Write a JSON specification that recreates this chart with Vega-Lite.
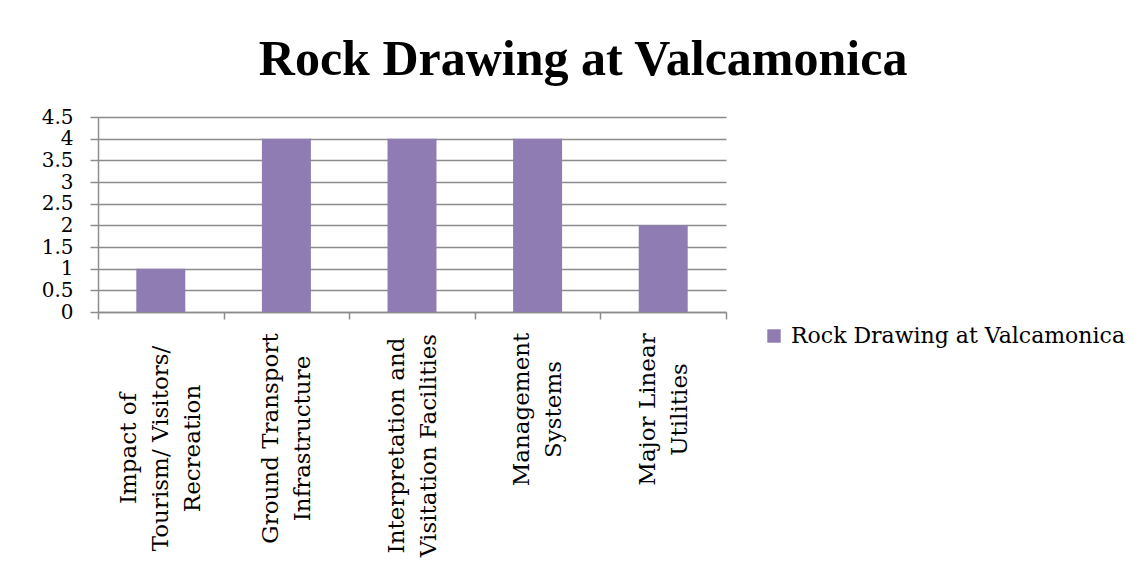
{
  "$schema": "https://vega.github.io/schema/vega-lite/v6.json",
  "width": 628,
  "height": 195,
  "autosize": {"type": "none"},
  "padding": {"left": 98, "top": 117, "right": 420, "bottom": 270},
  "background": "white",
  "config": {"view": {"stroke": null}},
  "title": {
    "text": "Rock Drawing at Valcamonica",
    "font": "Liberation Serif",
    "fontSize": 50,
    "fontWeight": "bold",
    "color": "black",
    "anchor": "middle",
    "frame": "bounds",
    "baseline": "alphabetic",
    "offset": -18
  },
  "data": {
    "values": [
      {"category": "Impact of Tourism/ Visitors/ Recreation", "value": 1, "series": "Rock Drawing at Valcamonica"},
      {"category": "Ground Transport Infrastructure", "value": 4, "series": "Rock Drawing at Valcamonica"},
      {"category": "Interpretation and Visitation Facilities", "value": 4, "series": "Rock Drawing at Valcamonica"},
      {"category": "Management Systems", "value": 4, "series": "Rock Drawing at Valcamonica"},
      {"category": "Major Linear Utilities", "value": 2, "series": "Rock Drawing at Valcamonica"}
    ]
  },
  "mark": {"type": "bar", "width": {"band": 0.39}},
  "encoding": {
    "x": {
      "field": "category",
      "type": "nominal",
      "sort": null,
      "scale": {"paddingInner": 0, "paddingOuter": 0},
      "axis": {
        "title": null,
        "labelExpr": "datum.value == 'Impact of Tourism/ Visitors/ Recreation' ? ['Impact of', 'Tourism/ Visitors/', 'Recreation'] : datum.value == 'Ground Transport Infrastructure' ? ['Ground Transport', 'Infrastructure'] : datum.value == 'Interpretation and Visitation Facilities' ? ['Interpretation and', 'Visitation Facilities'] : datum.value == 'Management Systems' ? ['Management', 'Systems'] : datum.value == 'Major Linear Utilities' ? ['Major Linear', 'Utilities'] : ''",
        "labelAngle": -90,
        "labelAlign": "center",
        "labelBaseline": "middle",
        "labelFont": "DejaVu Serif",
        "labelFontSize": 23,
        "labelLineHeight": 32,
        "labelLimit": 0,
        "labelOffset": {
          "condition": {"test": "datum.value == 'Impact of Tourism/ Visitors/ Recreation'", "value": -32},
          "value": -16
        },
        "labelPadding": {
          "condition": [
            {"test": "datum.value == 'Impact of Tourism/ Visitors/ Recreation'", "value": 129},
            {"test": "datum.value == 'Ground Transport Infrastructure'", "value": 119},
            {"test": "datum.value == 'Interpretation and Visitation Facilities'", "value": 126}
          ],
          "value": 90
        },
        "labelColor": "black",
        "labelOverlap": false,
        "tickBand": "extent",
        "tickSize": 7,
        "tickColor": "#8C8C8C",
        "domainColor": "#8C8C8C",
        "tickWidth": 1.5,
        "domainWidth": 1.5
      }
    },
    "y": {
      "field": "value",
      "type": "quantitative",
      "scale": {"domain": [0, 4.5], "nice": false},
      "axis": {
        "title": null,
        "values": [0, 0.5, 1, 1.5, 2, 2.5, 3, 3.5, 4, 4.5],
        "format": "~g",
        "labelFont": "DejaVu Serif",
        "labelFontSize": 20,
        "labelColor": "black",
        "labelPadding": 17,
        "labelOverlap": false,
        "labelFlush": false,
        "tickSize": 8,
        "tickColor": "#8C8C8C",
        "domainColor": "#8C8C8C",
        "gridColor": "#8C8C8C",
        "tickWidth": 1.5,
        "domainWidth": 1.5,
        "gridWidth": 1.5
      }
    },
    "color": {
      "field": "series",
      "type": "nominal",
      "scale": {"range": ["#8E7CB3"]},
      "legend": {
        "title": null,
        "orient": "none",
        "legendX": 665,
        "legendY": 208,
        "padding": 0,
        "symbolType": "square",
        "symbolSize": 180,
        "symbolStrokeWidth": 0,
        "labelFont": "DejaVu Serif",
        "labelFontSize": 22,
        "labelColor": "black",
        "labelOffset": 6,
        "labelLimit": 0
      }
    }
  }
}
